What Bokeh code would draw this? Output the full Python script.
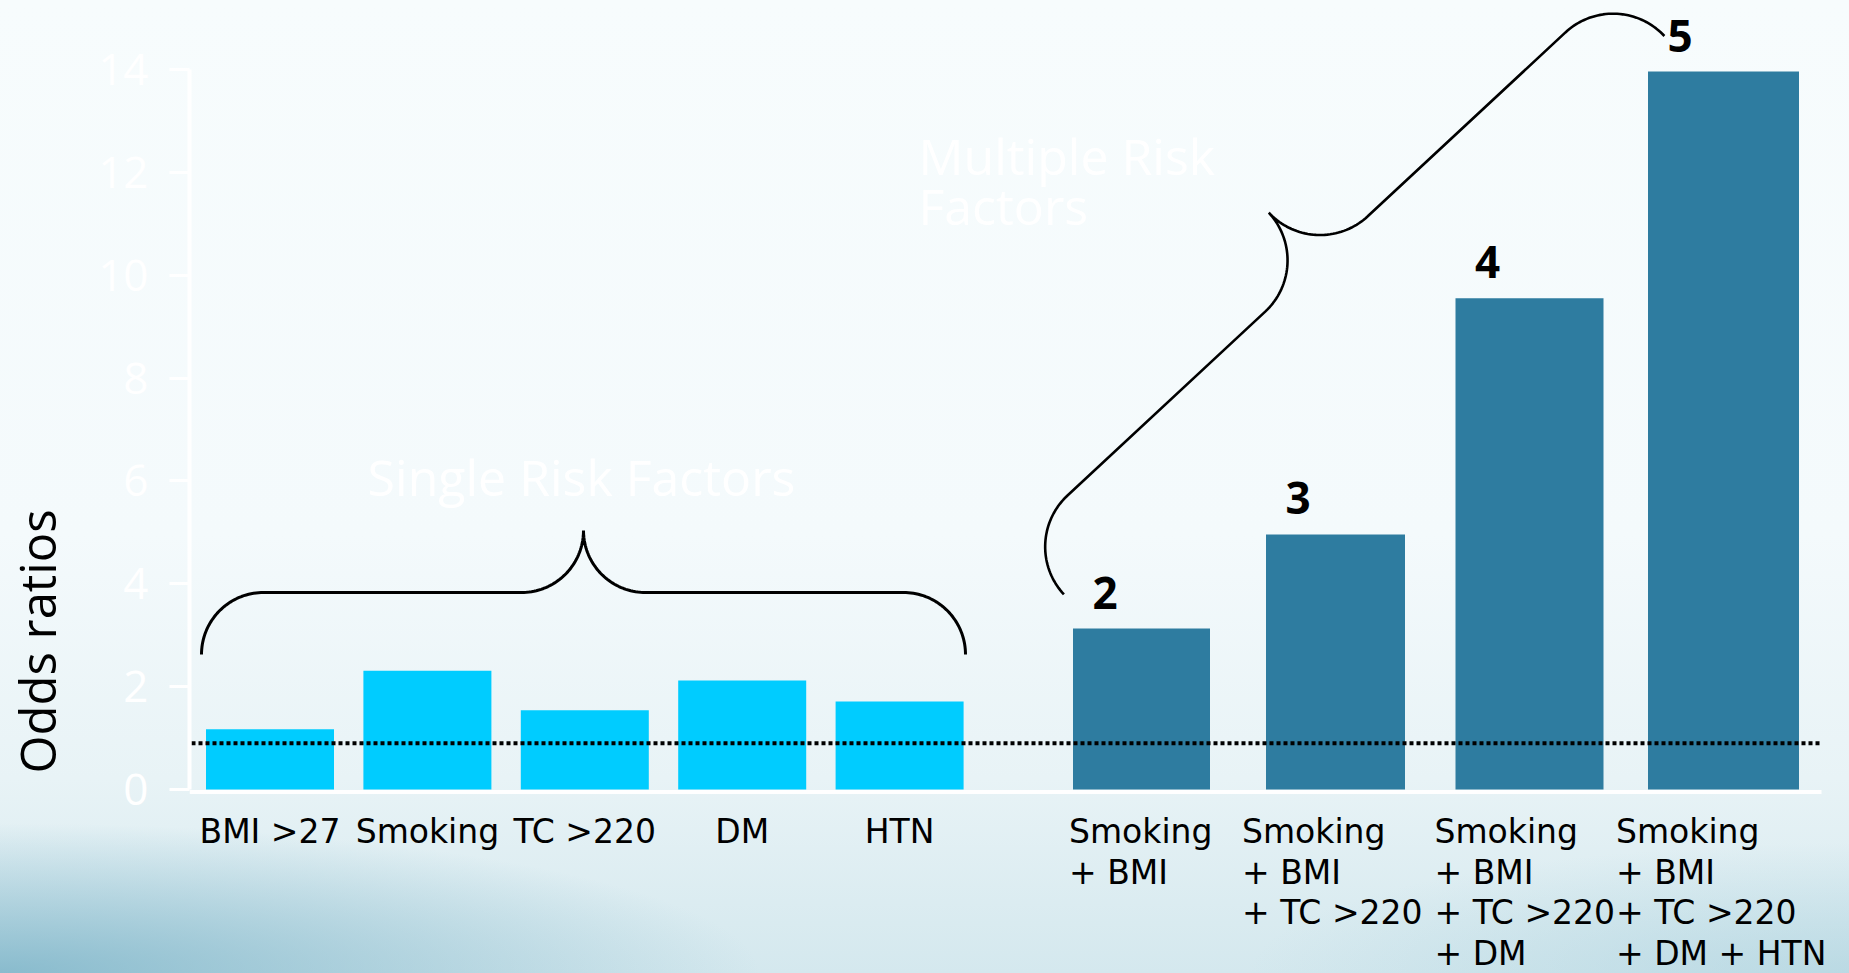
import numpy as np
from bokeh.plotting import figure
from bokeh.layouts import row
from bokeh.models import Range1d, FixedTicker
from bokeh.core.properties import value
from bokeh.embed import file_html
from bokeh.resources import INLINE

# ---------------- data ----------------
single_labels = ["BMI >27", "Smoking", "TC >220", "DM", "HTN"]
single_or = [1.17, 2.31, 1.54, 2.12, 1.71]
multi_labels = [
    "Smoking\n+ BMI",
    "Smoking\n+ BMI\n+ TC >220",
    "Smoking\n+ BMI\n+ TC >220\n+ DM",
    "Smoking\n+ BMI\n+ TC >220\n+ DM + HTN",
]
multi_or = [3.13, 4.96, 9.55, 13.96]
multi_count = ["2", "3", "4", "5"]
y_ticks = [0, 2, 4, 6, 8, 10, 12, 14]
reference_or = 0.9
y_title = "Odds ratios"
single_title = "Single Risk Factors"
multi_title = ["Multiple Risk", "Factors"]

# ---------------- layout ----------------
W, H = 1849, 973
TITLE_W = 90          # narrow left panel holding the y title
LEFT = 189            # frame left edge (page px)
PXU = 51.43           # px per odds-ratio unit
Y0 = 789              # px of y = 0
def y_of(px):         # screen px (from top) -> data y
    return (Y0 - px) / PXU

S_START, S_PITCH, S_WIDTH = 269.5, 157.4, 128
M_START, M_PITCH = 1141, 194
M_WIDTHS = [137, 139, 148, 151]
M_LABEL_DX = [-72.5, -93.5, -95, -107.5]
LABEL_BASE_PX, LABEL_STEP_PX = 831, 40.6

s_x = [S_START + i * S_PITCH for i in range(len(single_or))]
m_x = [M_START + i * M_PITCH for i in range(len(multi_or))]

LABEL_FONT = value("DejaVu Sans")
MAIN_FONT = value("Open Sans")

y_range = Range1d(y_of(H), y_of(0))

p = figure(width=W - TITLE_W, height=H, output_backend="svg", toolbar_location=None,
           x_range=Range1d(LEFT, W), y_range=y_range,
           x_axis_location=None, title=None,
           min_border_left=LEFT - TITLE_W, min_border_right=0, min_border_top=0,
           min_border_bottom=0)
p.background_fill_color = None
p.border_fill_color = None
p.outline_line_color = None
p.grid.visible = False

# y axis
ax = p.yaxis[0]
ax.ticker = FixedTicker(ticks=y_ticks)
ax.bounds = (0, 14)
ax.axis_line_color = "white"
ax.axis_line_width = 4
ax.major_tick_line_color = "white"
ax.major_tick_line_width = 3
ax.major_tick_out = 20
ax.major_tick_in = 0
ax.minor_tick_line_color = None
ax.major_label_text_color = "white"
ax.major_label_text_font = "Open Sans"
ax.major_label_text_font_size = "44px"
ax.major_label_standoff = 21

# x axis line (white)
p.segment(x0=[LEFT], y0=[-2.5 / PXU], x1=[1821], y1=[-2.5 / PXU],
          line_color="white", line_width=4)

# bars
p.vbar(x=s_x, width=S_WIDTH, top=single_or, bottom=0, fill_color="#00ccff", line_color=None)
p.vbar(x=m_x, width=M_WIDTHS, top=multi_or, bottom=0, fill_color="#2e7ca0", line_color=None)

# reference dotted line
p.line([191, 1819], [reference_or, reference_or], line_color="black",
       line_width=4, line_dash="4 3")

# braces
def brace(p0, u, n, L, r, npts=40):
    def arc(c, a0, a1):
        a = np.radians(np.linspace(a0, a1, npts))
        return [(c[0] + r * np.cos(t), c[1] + r * np.sin(t)) for t in a]
    loc = (arc((0, -r), 180, 90) + arc((L / 2 - r, r), -90, 0)
           + arc((L / 2 + r, r), 180, 270) + arc((L, -r), 90, 0))
    xs = [p0[0] + s * u[0] + t * n[0] for s, t in loc]
    ys = [y_of(p0[1] + s * u[1] + t * n[1]) for s, t in loc]
    return xs, ys

bx, by = brace((263, 592), (1, 0), (0, -1), 640, 62)
p.line(bx, by, line_color="black", line_width=3)
bx, by = brace((1067, 495), (0.7323, -0.6810), (-0.6810, -0.7323), 680, 70)
p.line(bx, by, line_color="black", line_width=2.6)

# category labels
p.text(x=s_x, y=[y_of(LABEL_BASE_PX)] * len(s_x), text=single_labels,
       text_font=LABEL_FONT, text_font_size="33px", text_color="black",
       text_align="center", text_baseline="alphabetic")
lx, ly, lt = [], [], []
for i, lab in enumerate(multi_labels):
    for j, line in enumerate(lab.split("\n")):
        lx.append(m_x[i] + M_LABEL_DX[i])
        ly.append(y_of(LABEL_BASE_PX + j * LABEL_STEP_PX))
        lt.append(line)
p.text(x=lx, y=ly, text=lt, text_font=LABEL_FONT, text_font_size="33px",
       text_color="black", text_align="left", text_baseline="alphabetic")

# counts above multi bars
cx = [m_x[i] - M_WIDTHS[i] / 2 + 32 for i in range(len(m_x))]
cy = [v + 36 / PXU for v in multi_or]
p.text(x=cx, y=cy, text=multi_count, text_font=MAIN_FONT, text_font_size="44px",
       text_font_style="bold", text_color="black", text_align="center",
       text_baseline="alphabetic")

# group titles (white)
p.text(x=[581], y=[y_of(476)], text=[single_title], text_font=MAIN_FONT,
       text_font_size="50px", text_color="white", text_align="center",
       text_baseline="alphabetic")
p.text(x=[918, 918], y=[y_of(155), y_of(205)], text=multi_title, text_font=MAIN_FONT,
       text_font_size="50px", text_color="white", text_align="left",
       text_baseline="alphabetic")

# left panel with the y title
pl = figure(width=TITLE_W, height=H, output_backend="svg", toolbar_location=None,
            x_range=Range1d(0, TITLE_W), y_range=y_range,
            x_axis_location=None, y_axis_location=None, title=None,
            min_border=0)
pl.background_fill_color = None
pl.border_fill_color = None
pl.outline_line_color = None
pl.grid.visible = False
pl.text(x=[36], y=[y_of(641)], text=[y_title], angle=np.pi / 2,
        text_font=MAIN_FONT, text_font_size="49px", text_color="black",
        text_align="center", text_baseline="middle")

layout = row(pl, p, spacing=0)
layout.styles = {
    "background": (
        "radial-gradient(ellipse 760px 150px at 0% 100%, rgba(118,176,197,0.8), rgba(118,176,197,0) 100%),"
        "radial-gradient(ellipse 600px 130px at 100% 100%, rgba(160,203,217,0.5), rgba(160,203,217,0) 100%),"
        "linear-gradient(to bottom, #f7fcfd 0%, #f4fafc 55%, #e8f3f6 80%, #d4e8ee 100%)"
    )
}

open("out.html", "w").write(file_html(layout, INLINE))
